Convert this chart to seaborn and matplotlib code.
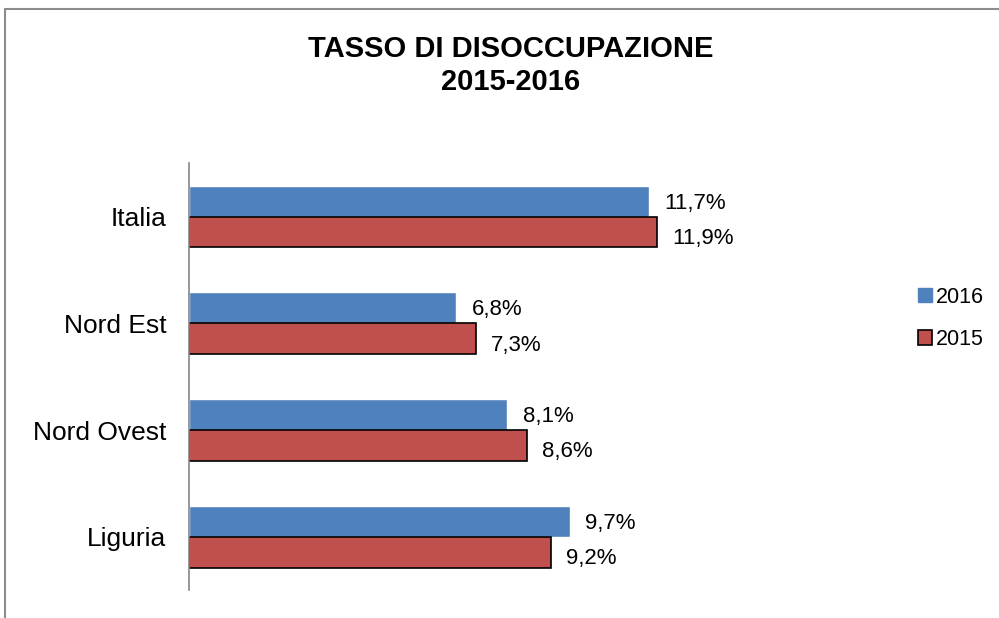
import pandas as pd
import seaborn as sns
from matplotlib import pyplot as plt
from matplotlib.patches import Rectangle, Patch

regions = ["Italia", "Nord Est", "Nord Ovest", "Liguria"]
rate_2016 = [11.7, 6.8, 8.1, 9.7]
rate_2015 = [11.9, 7.3, 8.6, 9.2]
years = ["2016", "2015"]

df = pd.DataFrame({
    "region": regions * 2,
    "rate": rate_2016 + rate_2015,
    "year": ["2016"] * len(regions) + ["2015"] * len(regions),
})

sns.set_style("white")
plt.rcParams["font.family"] = ["Liberation Sans", "DejaVu Sans"]
plt.rcParams["text.color"] = "black"
plt.rcParams["ytick.color"] = "black"

blue = "#4F81BD"
red = "#C0504D"

fig = plt.figure(figsize=(9.99, 6.18), dpi=100)
ax = fig.add_axes([0.189, 0.045, 0.551, 0.691])

sns.barplot(data=df, x="rate", y="region", hue="year", hue_order=years,
            palette=[blue, red], orient="h", width=0.58, ax=ax,
            saturation=1, legend=False)

# red bars get a black outline like the original
for bar in ax.containers[1]:
    bar.set_edgecolor("black")
    bar.set_linewidth(1.2)

for cont, vals, dy in zip(ax.containers, [rate_2016, rate_2015], [-1.5, -4.5]):
    labs = ax.bar_label(cont, labels=[f"{v:.1f}%".replace(".", ",") for v in vals],
                        padding=11, fontsize=16)
    for t in labs:
        t.set_y(dy)

ax.set_xlim(0, 14)
ax.set_ylim(3.5, -0.5)
ax.set_xlabel("")
ax.set_ylabel("")
ax.set_xticks([])
ax.tick_params(axis="y", labelsize=19, length=0, pad=16)
for s in ["top", "right", "bottom"]:
    ax.spines[s].set_visible(False)
ax.spines["left"].set_color("#868686")
ax.spines["left"].set_linewidth(1.2)

fig.text(0.511, 0.921, "TASSO DI DISOCCUPAZIONE", ha="center", va="center",
         fontsize=21, fontweight="bold")
fig.text(0.511, 0.867, "2015-2016", ha="center", va="center",
         fontsize=21, fontweight="bold")

handles = [Patch(facecolor=blue, edgecolor=blue),
           Patch(facecolor=red, edgecolor="black", linewidth=1.2)]
fig.legend(handles, years, loc="center left", bbox_to_anchor=(0.9, 0.485),
           frameon=False, fontsize=15.5, handlelength=0.65, handleheight=0.65,
           handletextpad=0.15, labelspacing=1.0)

fig.patches.append(Rectangle((0.005, -0.1), 1.2, 1.1 - 9 / 618,
                             transform=fig.transFigure, fill=False,
                             edgecolor="#8c8c8c", linewidth=1.5))

fig.savefig("out.png", dpi=100)
